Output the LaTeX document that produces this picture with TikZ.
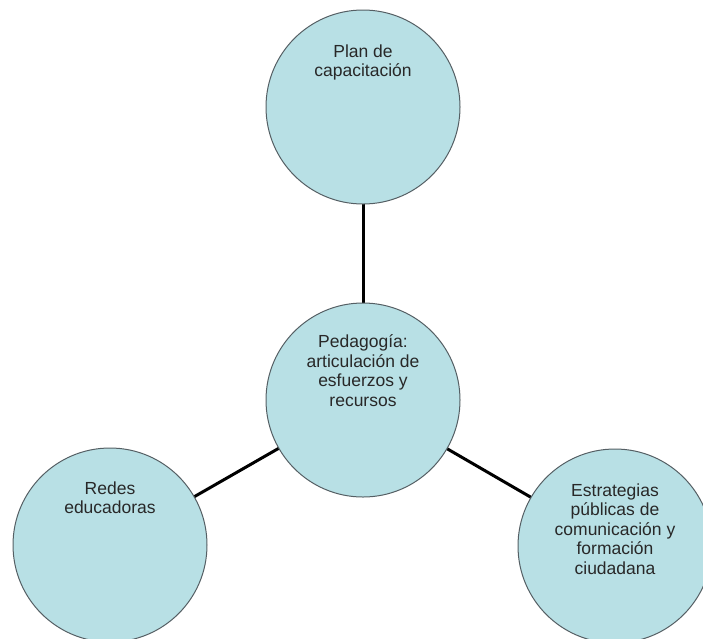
\documentclass[tikz,border=0pt]{standalone}
\usepackage{fontspec}
\setmainfont{Liberation Sans}
\definecolor{circfill}{RGB}{184,224,229}
\definecolor{circline}{RGB}{85,95,100}
\definecolor{txtcol}{RGB}{40,40,40}
\begin{document}
\begin{tikzpicture}[x=1pt,y=-1pt,
  circ/.style={circle,draw=circline,line width=1pt,fill=circfill,minimum size=194pt,inner sep=0pt},
  txt/.style={anchor=north,align=center,inner sep=0pt,text=txtcol,font=\fontsize{17.5}{19.5}\selectfont},
  conn/.style={line width=3pt,black}]
\useasboundingbox (0,0) rectangle (703,638);
\clip (0,0) rectangle (703,638);
\coordinate (ctop) at (363,107);
\coordinate (ccen) at (363,400);
\coordinate (cleft) at (110,545);
\coordinate (cright) at (615,546);
\draw[conn] (ctop) -- (ccen);
\draw[conn] (ccen) -- (cleft);
\draw[conn] (ccen) -- (cright);
\node[circ] (top) at (ctop) {};
\node[circ] (cen) at (ccen) {};
\node[circ] (left) at (cleft) {};
\node[circ] (right) at (cright) {};
\node[txt] (ttop) at ([yshift=-35pt]top.north) {Plan de\\capacitación};
\node[txt] (tcen) at ([yshift=-32pt]cen.north) {Pedagogía:\\articulación de\\esfuerzos y\\recursos};
\node[txt] (tleft) at ([yshift=-34pt]left.north) {Redes\\educadoras};
\node[txt] (tright) at ([yshift=-35pt]right.north) {Estrategias\\públicas de\\comunicación y\\formación\\ciudadana};
\end{tikzpicture}
\end{document}
